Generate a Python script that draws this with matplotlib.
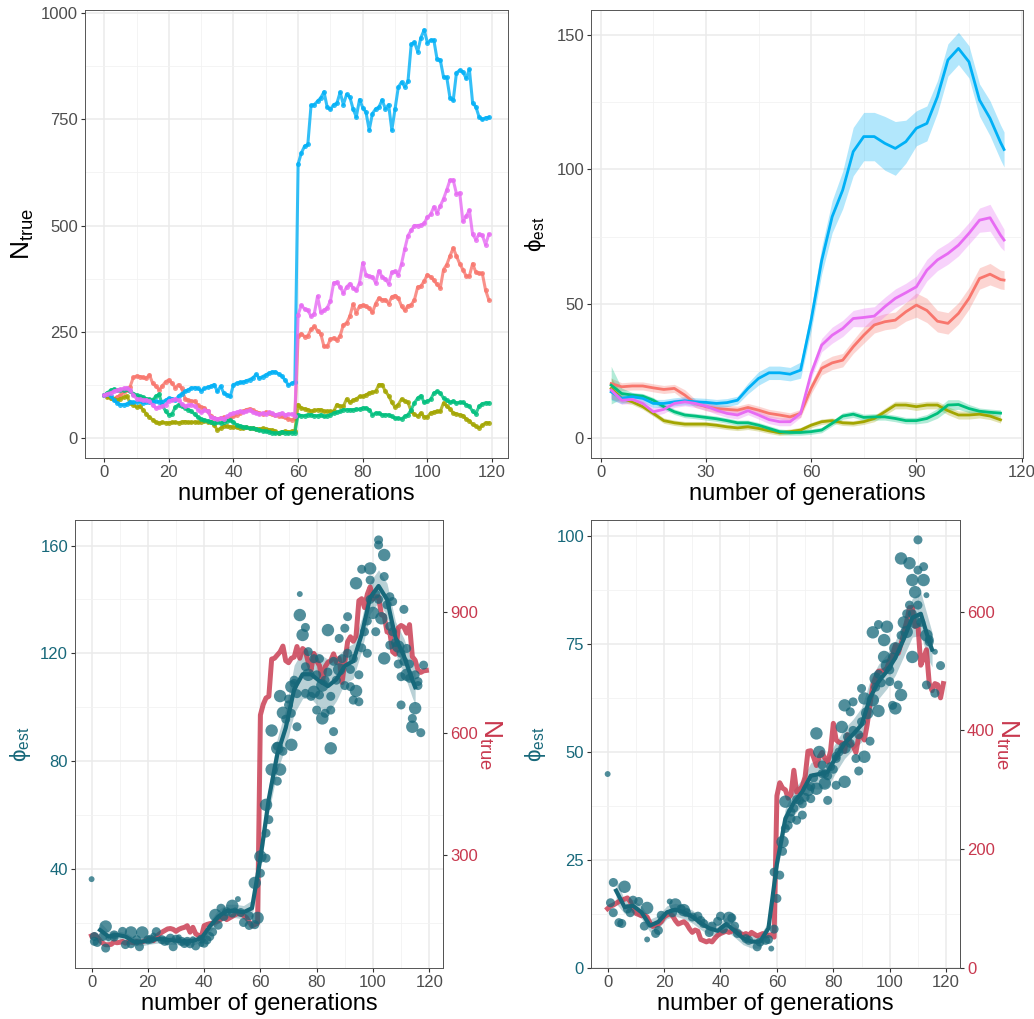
import numpy as np
import matplotlib
matplotlib.use('Agg')
import matplotlib.pyplot as plt
from matplotlib.ticker import MultipleLocator

plt.rcParams['font.family'] = ['Liberation Sans', 'DejaVu Sans']
plt.rcParams['mathtext.fontset'] = 'custom'
plt.rcParams['mathtext.rm'] = 'Liberation Sans'

# ---------------- data: true population size per generation ----------------
generations = np.arange(120)

n_red = [100, 97, 94, 92, 96, 100, 108, 112, 120, 142,
         145, 144, 142, 140, 148, 128, 121, 113, 122, 132,
         136, 128, 118, 125, 116, 92, 88, 86, 86, 76,
         72, 70, 62, 52, 46, 44, 46, 48, 44, 46,
         50, 54, 58, 62, 66, 68, 64, 60, 58, 56,
         60, 58, 56, 54, 52, 50, 48, 44, 42, 46,
         240, 245, 238, 240, 255, 262, 252, 245, 215, 215,
         232, 235, 230, 240, 266, 270, 286, 314, 294, 310,
         312, 310, 305, 295, 316, 329, 325, 325, 316, 332,
         335, 329, 310, 300, 311, 313, 325, 355, 357, 369,
         384, 379, 371, 361, 353, 396, 408, 428, 447, 428,
         410, 396, 381, 381, 410, 390, 387, 387, 348, 325]

n_olive = [100, 96, 93, 90, 88, 92, 95, 98, 82, 78,
           72, 74, 66, 56, 48, 42, 36, 34, 36, 35,
           35, 36, 36, 35, 37, 38, 36, 36, 37, 36,
           38, 40, 38, 36, 30, 18, 22, 28, 27, 26,
           25, 24, 23, 23, 24, 22, 22, 21, 20, 22,
           20, 19, 18, 15, 10, 14, 15, 14, 15, 16,
           78, 70, 68, 66, 62, 64, 66, 66, 62, 62,
           62, 62, 78, 74, 74, 91, 83, 88, 91, 97,
           97, 101, 105, 107, 109, 125, 125, 109, 99, 83,
           72, 78, 91, 86, 83, 62, 55, 50, 58, 49,
           49, 58, 60, 62, 62, 82, 74, 68, 58, 56,
           54, 52, 44, 40, 31, 27, 23, 29, 35, 35]

n_green = [100, 106, 112, 114, 113, 112, 113, 115, 110, 104,
           100, 97, 95, 92, 90, 89, 98, 102, 76, 62,
           54, 56, 72, 78, 75, 70, 66, 62, 55, 48,
           44, 42, 40, 38, 34, 36, 34, 38, 40, 42,
           36, 30, 28, 26, 24, 22, 22, 20, 18, 16,
           15, 14, 12, 10, 12, 14, 12, 12, 12, 12,
           54, 52, 52, 54, 54, 52, 52, 54, 50, 52,
           54, 58, 60, 62, 66, 66, 66, 66, 67, 67,
           70, 70, 66, 54, 58, 58, 54, 54, 54, 50,
           46, 46, 44, 50, 54, 66, 82, 93, 99, 83,
           86, 90, 105, 109, 105, 93, 88, 83, 86, 82,
           83, 83, 78, 74, 62, 56, 74, 80, 82, 82]

n_blue = [100, 103, 98, 88, 82, 78, 78, 79, 85, 83,
          84, 86, 82, 85, 84, 83, 86, 84, 85, 88,
          93, 92, 88, 98, 104, 109, 113, 117, 118, 116,
          111, 116, 119, 121, 125, 109, 121, 105, 101, 97,
          125, 128, 130, 131, 134, 137, 141, 149, 140, 144,
          148, 152, 155, 155, 150, 145, 135, 124, 128, 131,
          645, 671, 687, 691, 783, 785, 793, 801, 815, 779,
          774, 785, 788, 814, 785, 809, 803, 775, 756, 797,
          778, 767, 725, 764, 775, 779, 796, 775, 785, 725,
          775, 826, 838, 827, 840, 927, 932, 910, 943, 961,
          931, 937, 937, 892, 890, 850, 849, 801, 795, 860,
          866, 862, 847, 868, 789, 780, 756, 750, 754, 755]

n_magenta = [100, 104, 106, 109, 112, 114, 116, 118, 112, 100,
             92, 90, 88, 89, 86, 76, 70, 72, 74, 78,
             86, 89, 91, 88, 80, 74, 76, 78, 74, 66,
             60, 64, 62, 48, 46, 44, 46, 44, 50, 55,
             58, 60, 62, 60, 62, 64, 60, 58, 56, 58,
             55, 60, 57, 54, 56, 58, 54, 55, 56, 52,
             290, 312, 303, 300, 286, 292, 333, 296, 300, 306,
             322, 365, 366, 355, 341, 355, 363, 353, 347, 365,
             412, 384, 380, 379, 365, 393, 379, 374, 363, 390,
             392, 384, 410, 445, 476, 489, 500, 500, 501, 505,
             520, 526, 544, 530, 546, 563, 584, 607, 607, 575,
             577, 510, 522, 536, 479, 467, 479, 477, 455, 479]

# ---------------- data: smoothed phi estimates with band half-widths ----------------
phi_gen = list(range(3, 115, 3)) + [115]

phi_red = [20.3, 19.1, 19.4, 19.4, 18.7, 18.1, 18.5, 16.0, 12.9, 11.7,
           11.0, 10.7, 10.4, 11.4, 10.4, 9.2, 8.6, 7.9, 9.2, 18.5,
           26.0, 28.0, 29.0, 34.0, 38.3, 42.1, 43.3, 43.9, 47.0, 49.5,
           47.5, 43.5, 42.7, 46.4, 52.0, 59.4, 61.0, 59.0, 58.8]
hw_red = [2, 1.5, 1.5, 1.5, 1.5, 1.5, 1.5, 2, 1.5, 1.5,
          1.5, 1.5, 1.5, 1.5, 1.5, 1.5, 1.5, 1.5, 1.5, 2,
          2.5, 2.5, 2.5, 2.5, 3, 3, 3, 3, 3.5, 4.5,
          4.5, 4, 4, 4, 4, 4, 4, 3.5, 3.5]

phi_olive = [18.5, 14.8, 13.5, 11.7, 9.2, 6.5, 5.7, 5.2, 5.2, 5.2,
             4.8, 4.2, 3.8, 4.2, 3.6, 2.7, 2.0, 2.4, 3.0, 4.8,
             6.1, 6.5, 5.7, 5.5, 6.1, 7.3, 9.8, 12.3, 12.3, 11.7,
             12.3, 12.3, 10.2, 8.6, 8.6, 8.9, 8.2, 6.8, np.nan]
hw_olive = [4, 1.5, 1, 1, 1, 1, 1, 1, 1, 1,
            1, 1, 1, 1, 1, 1, 1, 1, 1, 1,
            1, 1, 1, 1, 1, 1.2, 1.3, 1.4, 1.4, 1.4,
            1.4, 1.4, 1.5, 1.5, 1.5, 1.4, 1.3, 1.2, np.nan]

phi_green = [19.7, 16.6, 16.0, 15.6, 14.1, 11.7, 9.8, 8.6, 8.2, 7.7,
             7.2, 6.5, 5.7, 5.7, 4.8, 3.6, 2.4, 2.1, 2.1, 2.4,
             3.0, 5.5, 8.2, 8.9, 7.7, 7.9, 7.9, 7.3, 6.5, 6.5,
             7.3, 9.2, 12.3, 12.5, 11.0, 10.0, 9.6, 9.3, np.nan]
hw_green = [7, 2, 1, 1, 1, 1, 1, 1, 1, 1,
            1, 1, 1, 1, 1, 1, 1, 1, 1, 1,
            1, 1, 1.2, 1.2, 1.2, 1.2, 1.2, 1.2, 1.2, 1.2,
            1.5, 1.8, 2, 1.8, 1.5, 1.2, 1.2, 1.2, np.nan]

phi_blue = [17.2, 14.8, 15.4, 14.8, 12.9, 12.9, 13.5, 13.9, 13.5, 13.3,
            12.9, 13.2, 14.1, 18.5, 22.2, 24.3, 24.3, 23.8, 25.3, 43.9,
            66.0, 82.4, 92.3, 106.6, 112.2, 112.2, 109.7, 107.8, 110.3, 115.3,
            117.1, 127.0, 140.7, 145.0, 140.0, 125.8, 119.0, 110.0, 107.4]
hw_blue = [3, 2, 1.5, 1.5, 1.5, 1.5, 1.5, 1.5, 1.5, 1.5,
           1.5, 1.5, 1.5, 2, 2.5, 2.5, 2.5, 2.5, 3, 4,
           5, 6, 7, 9, 9, 9, 10, 10, 8, 6.5,
           6.5, 6, 6, 6, 6, 6, 6.5, 6.5, 6.5]

phi_magenta = [17.9, 14.1, 14.4, 12.9, 9.8, 10.7, 12.9, 13.5, 12.9, 11.9,
               10.4, 9.2, 8.6, 10.2, 8.6, 6.9, 6.1, 6.1, 9.2, 24.1,
               34.6, 38.3, 40.8, 44.5, 44.9, 45.4, 48.9, 52.0, 54.1, 56.3,
               62.5, 66.3, 68.7, 71.8, 76.2, 81.1, 82.0, 75.5, 73.7]
hw_magenta = [3, 1.5, 1.5, 1.5, 1.5, 1.5, 1.5, 1.5, 1.5, 1.5,
              1.5, 1.5, 1.5, 1.5, 1.5, 1.5, 1.5, 1.5, 1.5, 2,
              2.5, 3, 3, 3, 3.5, 3.5, 3.5, 3.5, 3.5, 4,
              4, 4, 4, 4, 4, 4.5, 5, 4.5, 4]

# ---------------- data: raw phi estimates (generation, value, size class) ----------------
bl_pts = [(0, 36.1, 1), (1, 14.8, 2), (1, 13.0, 2), (2, 12.6, 2), (4, 14.8, 2),
          (5, 18.5, 3), (5, 10.5, 2), (6, 14.2, 1), (8, 15.4, 2), (8, 14.6, 2),
          (11, 16.7, 2), (12, 11.8, 2), (14, 16.3, 3), (14, 12.1, 2), (16, 13.6, 2),
          (16, 12.5, 1), (17, 11.0, 2), (18, 16.3, 3), (20, 13.6, 2), (21, 13.8, 2),
          (22, 15.2, 1), (23, 16.6, 2), (25, 13.6, 2), (26, 13.0, 2), (27, 12.6, 1),
          (28, 14.2, 2), (29, 11.0, 2), (30, 13.8, 2), (31, 14.5, 1), (32, 13.0, 2),
          (33, 12.2, 2), (34, 13.0, 2), (35, 12.1, 2), (36, 13.8, 1), (37, 11.3, 2),
          (39, 13.8, 2), (39, 12.0, 1), (40, 12.3, 2), (41, 13.5, 2), (42, 14.8, 2),
          (43, 16.5, 2), (44, 22.8, 3), (45, 19.0, 2), (46, 25.3, 2), (47, 22.2, 2),
          (48, 24.0, 2), (50, 26.2, 3), (50, 23.5, 2), (51, 24.5, 1), (52, 28.7, 1),
          (53, 23.7, 2), (54, 20.0, 2), (56, 18.9, 2), (56, 22.5, 2), (58, 34.7, 3),
          (58, 19.2, 2), (59, 21.7, 3), (60, 38.3, 2), (60, 44.5, 3), (62, 43.9, 2),
          (62, 53.2, 2), (63, 58.2, 2), (62, 63.7, 3), (64, 76.8, 3), (66, 72.5, 2),
          (67, 76.8, 3), (66, 85.5, 2), (68, 83.6, 2), (71, 86.0, 3),
          (64, 91.3, 3), (66, 84.7, 3), (68, 97.9, 3), (69, 95.5, 2), (70, 100.8, 2),
          (67, 104.1, 3), (71, 97.7, 2), (71, 107.6, 3), (72, 108.8, 2), (73, 92.7, 2),
          (74, 142.0, 1), (74, 134.2, 3), (75, 126.8, 3), (76, 129.6, 2), (76, 105.1, 2),
          (77, 120.6, 2), (79, 105.7, 3), (80, 98.9, 2), (81, 104.5, 2), (82, 95.8, 3),
          (83, 97.7, 2), (84, 128.6, 3), (85, 84.7, 3), (85, 98.9, 2), (86, 90.9, 2),
          (88, 125.5, 2), (90, 129.3, 2), (91, 133.6, 2), (92, 107.6, 2), (93, 102.6, 2),
          (94, 146.0, 3), (95, 102.0, 2), (96, 151.2, 2), (98, 120.0, 2), (99, 151.5, 3),
          (99, 147.2, 2), (101, 128.0, 2), (102, 162.1, 2), (102, 160.2, 2), (104, 156.5, 3),
          (104, 118.1, 3), (104, 148.5, 2), (106, 141.0, 2), (106, 123.0, 2), (107, 139.2, 2),
          (109, 122.5, 3), (110, 100.8, 2), (111, 136.3, 2), (110, 111.3, 2), (112, 121.8, 2),
          (113, 110.7, 2), (114, 95.8, 2), (114, 92.7, 3), (115, 99.6, 3), (116, 109.5, 2),
          (117, 90.5, 2), (118, 115.6, 2),
          (70, 103, 2), (72, 110, 2), (73, 105, 2), (76, 115, 2), (77, 112, 3),
          (78, 104, 2), (79, 118, 2), (80, 112, 2), (81, 118, 2), (82, 108, 3),
          (83, 110, 2), (84, 113, 2), (85, 104, 2), (86, 117, 2), (87, 110, 2),
          (88, 114, 3), (89, 118, 2), (90, 108, 2), (91, 120, 2), (92, 114, 2),
          (93, 118, 2), (94, 106, 3), (95, 112, 2), (96, 122, 2), (97, 128, 2),
          (98, 132, 2), (99, 140, 2), (100, 135, 3), (101, 142, 2), (102, 140, 2),
          (103, 133, 3), (105, 138, 2), (106, 130, 2), (107, 128, 2), (108, 124, 2),
          (109, 116, 2), (110, 120, 2), (111, 117, 2), (112, 112, 3), (113, 116, 2),
          (115, 112, 2), (116, 108, 2)]

br_pts = [(0, 44.9, 1), (1, 15.1, 2), (2, 19.8, 2), (2, 12.8, 2), (4, 10.5, 2),
          (5, 10.3, 2), (6, 18.8, 3), (7, 13.7, 2), (8, 12.8, 2), (9, 15.7, 2),
          (11, 15.4, 2), (13, 9.7, 2), (14, 6.6, 1), (14, 13.9, 3), (17, 8.0, 2),
          (18, 8.7, 2), (19, 12.2, 2), (22, 15.4, 1), (23, 12.8, 2), (24, 14.7, 3),
          (26, 13.7, 2), (27, 13.4, 3), (28, 12.8, 2), (30, 11.8, 2), (32, 12.0, 2),
          (33, 11.0, 2), (34, 10.3, 2), (36, 8.2, 2), (37, 9.7, 2), (39, 10.8, 2),
          (40, 12.0, 2), (41, 9.0, 2), (43, 11.6, 3), (44, 11.6, 2), (45, 9.7, 2),
          (46, 8.0, 2), (49, 6.8, 2), (50, 6.4, 2), (53, 4.9, 2), (54, 6.0, 2),
          (56, 6.4, 2), (57, 6.6, 2), (58, 4.5, 1), (59, 9.0, 2), (59, 22.2, 2),
          (60, 16.1, 2), (61, 21.5, 2), (62, 29.2, 3), (63, 32.3, 2), (63, 38.5, 3),
          (65, 36.1, 2), (65, 34.6, 2), (67, 34.2, 2), (68, 38.8, 2), (69, 35.4, 2),
          (71, 41.2, 3), (72, 39.2, 2), (74, 54.3, 3), (74, 41.5, 3), (75, 50.0, 3),
          (76, 45.0, 2), (77, 42.7, 3), (78, 38.8, 2), (79, 46.6, 2), (81, 42.3, 2),
          (81, 48.5, 2), (83, 55.8, 3), (84, 43.1, 3), (84, 60.8, 3), (85, 53.5, 2),
          (86, 59.3, 2), (87, 61.6, 2), (88, 48.5, 2), (89, 45.6, 2), (90, 64.7, 2),
          (91, 48.9, 3), (91, 62.4, 3), (93, 52.5, 2), (94, 77.7, 3), (95, 67.0, 3),
          (96, 79.5, 2), (96, 59.5, 3), (98, 72.0, 3), (99, 79.0, 3), (98, 75.9, 3),
          (100, 66.3, 2), (101, 60.8, 2), (102, 60.1, 3), (103, 65.5, 2), (104, 94.8, 3),
          (104, 63.2, 3), (106, 77.8, 3), (107, 93.7, 3), (108, 72.0, 3), (108, 89.8, 3),
          (109, 87.0, 3), (110, 99.1, 2), (110, 92.1, 2), (112, 89.8, 3), (112, 92.9, 2),
          (113, 86.3, 1), (113, 65.5, 2), (114, 75.5, 2), (116, 73.2, 1), (116, 63.6, 2),
          (118, 70.0, 2),
          (62, 27, 2), (64, 33, 2), (66, 37, 2), (67, 39, 2), (69, 38, 2),
          (70, 39.5, 2), (72, 42, 2), (73, 44, 2), (76, 47, 2), (77, 45, 2),
          (78, 44.5, 2), (80, 46, 2), (81, 49, 2), (82, 50, 2), (84, 51, 3),
          (86, 52, 2), (87, 55, 2), (89, 54, 2), (90, 57, 2), (92, 59, 3),
          (94, 62, 3), (95, 65, 2), (96, 68, 2), (97, 66, 2), (99, 70, 3),
          (100, 69, 2), (101, 72, 2), (102, 74, 3), (104, 77, 2), (105, 80, 3),
          (106, 82, 2), (107, 84, 2), (108, 82, 2), (109, 80, 3), (110, 84, 2),
          (111, 80, 2), (113, 77, 3), (114, 76, 2)]

series_colors = ['#F8766D', '#A3A500', '#00BF7D', '#00B0F6', '#E76BF3']
teal = '#17687A'
crimson = '#C8384E'
size_map = {1: 18, 2: 42, 3: 80}

fig = plt.figure(figsize=(10.34, 10.19), dpi=100)
W, H = 1034, 1019


def add_ax(x0, y0, x1, y1):
    return fig.add_axes([x0 / W, 1 - y1 / H, (x1 - x0) / W, (y1 - y0) / H])


def style(ax, xmaj, ymaj):
    ax.xaxis.set_major_locator(MultipleLocator(xmaj))
    ax.xaxis.set_minor_locator(MultipleLocator(xmaj / 2))
    ax.yaxis.set_major_locator(MultipleLocator(ymaj))
    ax.yaxis.set_minor_locator(MultipleLocator(ymaj / 2))
    ax.grid(which='major', color='#EBEBEB', lw=1.1)
    ax.grid(which='minor', color='#F2F2F2', lw=0.6)
    ax.set_axisbelow(True)
    ax.tick_params(which='major', length=3, width=0.8, color='#333333',
                   labelsize=12, labelcolor='#4D4D4D', pad=2)
    ax.tick_params(which='minor', length=0)
    for sp in ax.spines.values():
        sp.set_color('#555555')
        sp.set_linewidth(0.7)
    ax.set_xlabel('number of generations', fontsize=17, labelpad=2)


phi_label = '$\\mathregular{ϕ_{est}}$'

# ---------------- top-left: N_true trajectories ----------------
ax1 = add_ax(85, 10, 508, 458)
for vals, c in zip([n_red, n_olive, n_green, n_blue, n_magenta], series_colors):
    ax1.plot(generations, vals, color=c, lw=2.2, alpha=0.8, marker='o', ms=3.6, mew=0)
ax1.set_xlim(-5.95, 124.95)
ax1.set_ylim(-48, 1008)
style(ax1, 20, 250)
ax1.set_ylabel('$\\mathregular{N_{true}}$', fontsize=19)
ax1.yaxis.set_label_coords(-0.117, 0.5)

# ---------------- top-right: phi estimates ----------------
ax2 = add_ax(591, 10, 1023, 458)
for vals, hw, c in zip([phi_red, phi_olive, phi_green, phi_blue, phi_magenta],
                       [hw_red, hw_olive, hw_green, hw_blue, hw_magenta], series_colors):
    v = np.array(vals, dtype=float)
    h = np.array(hw, dtype=float)
    ax2.fill_between(phi_gen, v - h, v + h, color=c, alpha=0.3, lw=0)
for vals, c in zip([phi_red, phi_olive, phi_green, phi_blue, phi_magenta], series_colors):
    ax2.plot(phi_gen, vals, color=c, lw=2.0)
ax2.set_xlim(-2.75, 120.4)
ax2.set_ylim(-7.4, 159.3)
style(ax2, 30, 50)
ax2.set_ylabel(phi_label, fontsize=16)
ax2.yaxis.set_label_coords(-0.099, 0.5)


# ---------------- bottom panels: phi vs N_true ----------------
def dual_panel(ax, pts, phi_line, hw_line, n_line, k, ylim, ymaj, nticks):
    v = np.array(phi_line, dtype=float)
    h = np.array(hw_line, dtype=float)
    ax.fill_between(phi_gen, v - h, v + h, color=teal, alpha=0.3, lw=0, zorder=2)
    ax.plot(generations, np.array(n_line) * k, color=crimson, lw=3.6, alpha=0.82,
            zorder=3, solid_joinstyle='round')
    g = [p[0] for p in pts]
    y = [p[1] for p in pts]
    s = [size_map[p[2]] for p in pts]
    ax.scatter(g, y, s=s, color=teal, alpha=0.75, lw=0, zorder=4)
    ax.plot(phi_gen, phi_line, color=teal, lw=3.0, zorder=5)
    ax.set_xlim(-5.9, 124.9)
    ax.set_ylim(*ylim)
    style(ax, 20, ymaj)
    ax.tick_params(axis='y', labelcolor=teal)
    ax.set_ylabel(phi_label, fontsize=16, color=teal)
    sec = ax.secondary_yaxis('right', functions=(lambda p: p / k, lambda n: n * k))
    sec.set_yticks(nticks)
    sec.tick_params(length=3, width=0.8, color='#333333', labelsize=12,
                    labelcolor=crimson, pad=2)
    sec.spines['right'].set_color('#555555')
    sec.spines['right'].set_linewidth(0.7)
    sec.set_ylabel('$\\mathregular{N_{true}}$', fontsize=19, color=crimson,
                   rotation=270, labelpad=18)
    return sec


ax3 = add_ax(75, 520, 443, 968)
dual_panel(ax3, bl_pts, phi_blue, hw_blue, n_blue, 0.1505, (3.1, 169.5), 40, [300, 600, 900])
ax3.yaxis.set_label_coords(-0.114, 0.5)

ax4 = add_ax(591, 520, 960, 968)
dual_panel(ax4, br_pts, phi_magenta, hw_magenta, n_magenta, 0.13744, (0, 103.7), 25, [0, 200, 400, 600])
ax4.yaxis.set_label_coords(-0.117, 0.5)

fig.savefig('out.png', dpi=100)
